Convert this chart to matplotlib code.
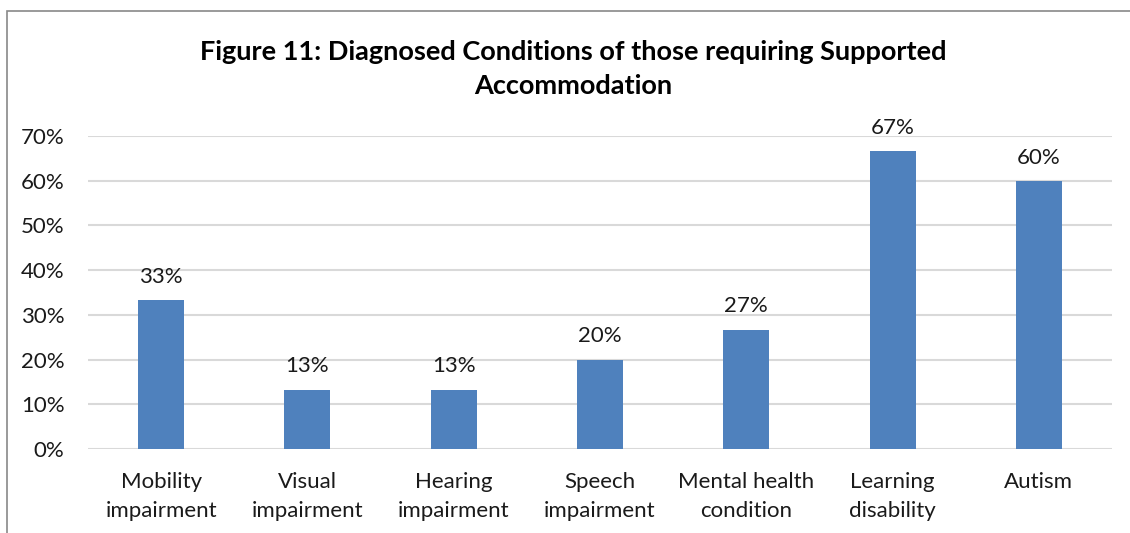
import matplotlib
matplotlib.use("Agg")
import matplotlib.pyplot as plt
from matplotlib.patches import Rectangle

categories = ["Mobility\nimpairment", "Visual\nimpairment", "Hearing\nimpairment",
              "Speech\nimpairment", "Mental health\ncondition", "Learning\ndisability", "Autism"]
values = [33.3, 13.3, 13.3, 20.0, 26.7, 66.7, 60.0]
labels = ["33%", "13%", "13%", "20%", "27%", "67%", "60%"]
yticks = [0, 10, 20, 30, 40, 50, 60, 70]
title = "Figure 11: Diagnosed Conditions of those requiring Supported\nAccommodation"

plt.rcParams['font.family'] = ['Lato', 'DejaVu Sans']

W, H = 1130, 533
fig = plt.figure(figsize=(W/100, H/100), dpi=100)
fig.patch.set_facecolor("white")

# outer chart border (left and top visible)
fig.add_artist(Rectangle((7/W, -0.1), 1.2, (H - 11)/H + 0.1, transform=fig.transFigure,
                         fill=False, edgecolor="#898989", linewidth=1.2))

ax = fig.add_axes([88/W, (H-449)/H, (1112-88)/W, (449-136)/H])
x = list(range(len(categories)))
ax.bar(x, values, width=0.315, color="#4f81bd", zorder=3)
ax.set_xlim(-0.5, len(categories) - 0.5)
ax.set_ylim(0, 70)
ax.set_yticks(yticks)
ax.set_yticklabels([f"{t}%" for t in yticks], fontsize=16, color="#1a1a1a")
ax.set_xticks(x)
ax.set_xticklabels(categories, fontsize=16, color="#1a1a1a", linespacing=1.55)
ax.tick_params(axis="both", length=0)
ax.tick_params(axis="y", pad=17)
ax.tick_params(axis="x", pad=16.5)
ax.grid(axis="y", color="#d9d9d9", linewidth=1.5, zorder=0)
for s in ax.spines.values():
    s.set_visible(False)

for xi, v, lab in zip(x, values, labels):
    ax.annotate(lab, (xi, v), xytext=(0, 9.5), textcoords="offset points",
                ha="center", va="bottom", fontsize=16, color="#1a1a1a")

fig.text(573/W, 1 - 69.5/H, title, ha="center", va="center", fontsize=19.5,
         fontweight="bold", color="#000000", linespacing=1.5)

fig.savefig("out.png", dpi=100, facecolor="white")
